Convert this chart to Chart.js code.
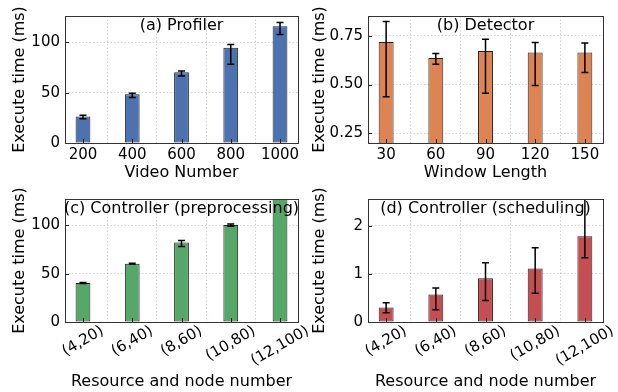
<!DOCTYPE html>
<html>
<head>
<meta charset="utf-8">
<script src="https://cdn.jsdelivr.net/npm/chart.js@4.4.0/dist/chart.umd.min.js"></script>
<style>
  body { margin: 0; background: #fff; }
  #wrap { position: relative; width: 618px; height: 392px; }
  canvas { position: absolute; }
</style>
</head>
<body>
<div id="wrap">
  <canvas id="profiler" width="309" height="185" style="left:0;top:0"></canvas>
  <canvas id="detector" width="309" height="185" style="left:309px;top:0"></canvas>
  <canvas id="preproc" width="309" height="207" style="left:0;top:185px"></canvas>
  <canvas id="sched" width="309" height="207" style="left:309px;top:185px"></canvas>
</div>
<script>
// (a) Profiler
const videoNumbers = ['200', '400', '600', '800', '1000'];
const profilerTime = [26.3, 48.5, 70.3, 94.7, 116];
const profilerLow = [24.1, 45.2, 66.6, 78.2, 108];
const profilerHigh = [27.7, 49.5, 71.6, 98, 119.8];
const profilerTicks = [0, 50, 100];

// (b) Detector
const windowLengths = ['30', '60', '90', '120', '150'];
const detectorTime = [0.719, 0.637, 0.672, 0.665, 0.665];
const detectorLow = [0.438, 0.604, 0.455, 0.495, 0.562];
const detectorHigh = [0.824, 0.66, 0.732, 0.716, 0.714];
const detectorTicks = [0.25, 0.5, 0.75];

// (c) + (d) Controller
const resourceNodes = ['(4,20)', '(6,40)', '(8,60)', '(10,80)', '(12,100)'];
const preprocTime = [40.4, 60.4, 82.4, 100.4, 130];
const preprocLow = [40, 60, 78.2, 99.2, 129];
const preprocHigh = [40.8, 60.8, 84.4, 101.4, 131];
const preprocTicks = [0, 50, 100];

const schedTime = [0.30, 0.57, 0.91, 1.115, 1.785];
const schedLow = [0.19, 0.255, 0.45, 0.6, 1.335];
const schedHigh = [0.40, 0.71, 1.235, 1.545, 2.7];
const schedTicks = [0, 1, 2];

Chart.defaults.font.family = 'DejaVu Sans';
Chart.defaults.color = '#000';

const FONT = 'DejaVu Sans';
const gridColor = 'rgba(0,0,0,0.22)';

// error bars, inner ticks, frame, panel title, rotated labels
const panelDecor = {
  id: 'panelDecor',
  afterDatasetsDraw(chart, args, opts) {
    const ctx = chart.ctx;
    const a = chart.chartArea;
    const x = chart.scales.x, y = chart.scales.y;

    ctx.save();
    ctx.beginPath();
    ctx.rect(a.left, a.top, a.right - a.left, a.bottom - a.top);
    ctx.clip();
    ctx.strokeStyle = '#000';
    ctx.lineWidth = 1.5;
    opts.low.forEach((lo, i) => {
      const px = x.getPixelForValue(i);
      const y1 = y.getPixelForValue(lo);
      const y2 = y.getPixelForValue(opts.high[i]);
      ctx.beginPath();
      ctx.moveTo(px, y1); ctx.lineTo(px, y2);
      ctx.moveTo(px - 3.5, y1); ctx.lineTo(px + 3.5, y1);
      ctx.moveTo(px - 3.5, y2); ctx.lineTo(px + 3.5, y2);
      ctx.stroke();
    });
    ctx.restore();

    ctx.save();
    ctx.strokeStyle = '#222';
    ctx.lineWidth = 1;
    ctx.beginPath();
    x.ticks.forEach(t => {
      const px = Math.round(x.getPixelForValue(t.value)) + 0.5;
      ctx.moveTo(px, a.bottom); ctx.lineTo(px, a.bottom - 4);
    });
    y.ticks.forEach(t => {
      const py = Math.round(y.getPixelForValue(t.value)) + 0.5;
      ctx.moveTo(a.left, py); ctx.lineTo(a.left + 4, py);
    });
    ctx.stroke();
    ctx.strokeStyle = '#333';
    ctx.strokeRect(Math.round(a.left) + 0.5, Math.round(a.top) + 0.5,
      Math.round(a.right - a.left), Math.round(a.bottom - a.top));

    ctx.fillStyle = '#000';
    ctx.font = '16px "' + FONT + '"';
    ctx.textAlign = 'center';
    ctx.textBaseline = 'middle';
    ctx.fillText(opts.title, (a.left + a.right) / 2, a.top + 9.5);

    if (opts.rotated) {
      ctx.font = '15px "' + FONT + '"';
      opts.rotated.forEach((lab, i) => {
        const px = x.getPixelForValue(i);
        const w = ctx.measureText(lab).width;
        const h = w * 0.5 + 8;
        ctx.save();
        ctx.translate(px, a.bottom + 4 + h / 2);
        ctx.rotate(-Math.PI / 6);
        ctx.fillText(lab, 0, 0);
        ctx.restore();
      });
    }
    ctx.restore();
  }
};

function makePanel(id, cfg) {
  const rotated = !!cfg.rotated;
  return new Chart(document.getElementById(id), {
    type: 'bar',
    data: {
      datasets: [{
        data: cfg.values.map((v, i) => ({ x: i, y: v })),
        backgroundColor: cfg.color,
        borderColor: '#222',
        borderWidth: 1,
        borderSkipped: false,
        barPercentage: 0.3,
        categoryPercentage: 1,
        clip: 0
      }]
    },
    options: {
      responsive: false,
      animation: false,
      events: [],
      layout: { padding: { top: cfg.padTop, right: cfg.padRight, left: 0, bottom: 0 } },
      plugins: {
        legend: { display: false },
        tooltip: { enabled: false },
        panelDecor: { title: cfg.title, low: cfg.low, high: cfg.high, rotated: rotated ? cfg.labels : null }
      },
      scales: {
        x: {
          type: 'linear',
          min: -0.365, max: 4.365,
          offset: false,
          afterBuildTicks: s => { s.ticks = cfg.labels.map((_, i) => ({ value: i })); },
          afterFit: s => { s.height = cfg.xHeight; },
          grid: { color: gridColor, lineWidth: 0.8, drawTicks: false },
          border: { display: false, dash: [1.5, 2] },
          ticks: {
            display: !rotated,
            padding: 3,
            font: { size: 15 },
            maxRotation: 0,
            autoSkip: false,
            callback: v => cfg.labels[v]
          },
          title: {
            display: true,
            text: cfg.xTitle,
            font: { size: 16 },
            padding: { top: 0, bottom: cfg.xTitlePad }
          }
        },
        y: {
          min: cfg.yMin, max: cfg.yMax,
          afterBuildTicks: s => { s.ticks = cfg.yTicks.map(v => ({ value: v })); },
          afterFit: s => { s.width = cfg.yWidth; },
          grid: { color: gridColor, lineWidth: 0.8, drawTicks: false },
          border: { display: false, dash: [1.5, 2] },
          ticks: {
            padding: 5,
            font: { size: 15 },
            callback: v => cfg.yDigits ? v.toFixed(cfg.yDigits) : String(v)
          },
          title: {
            display: true,
            text: 'Execute time (ms)',
            font: { size: 16 },
            padding: { top: cfg.yTitlePad, bottom: 0 }
          }
        }
      }
    },
    plugins: [panelDecor]
  });
}

makePanel('profiler', {
  title: '(a) Profiler', labels: videoNumbers, values: profilerTime,
  low: profilerLow, high: profilerHigh, color: '#4C72B0',
  yMin: 0, yMax: 126.3, yTicks: profilerTicks, xTitle: 'Video Number',
  padTop: 16, padRight: 11, yWidth: 65, xHeight: 42, xTitlePad: 3, yTitlePad: 10
});

makePanel('detector', {
  title: '(b) Detector', labels: windowLengths, values: detectorTime,
  low: detectorLow, high: detectorHigh, color: '#DD8452',
  yMin: 0.2, yMax: 0.852, yTicks: detectorTicks, yDigits: 2, xTitle: 'Window Length',
  padTop: 16, padRight: 15, yWidth: 59, xHeight: 42, xTitlePad: 3, yTitlePad: 1
});

makePanel('preproc', {
  title: '(c) Controller (preprocessing)', labels: resourceNodes, values: preprocTime,
  low: preprocLow, high: preprocHigh, color: '#55A868', rotated: true,
  yMin: 0, yMax: 127.4, yTicks: preprocTicks, xTitle: 'Resource and node number',
  padTop: 9, padRight: 11, yWidth: 65, xHeight: 70, xTitlePad: 1, yTitlePad: 10
});

makePanel('sched', {
  title: '(d) Controller (scheduling)', labels: resourceNodes, values: schedTime,
  low: schedLow, high: schedHigh, color: '#C44E52', rotated: true,
  yMin: 0, yMax: 2.56, yTicks: schedTicks, xTitle: 'Resource and node number',
  padTop: 9, padRight: 15, yWidth: 59, xHeight: 70, xTitlePad: 1, yTitlePad: 1
});
</script>
</body>
</html>
